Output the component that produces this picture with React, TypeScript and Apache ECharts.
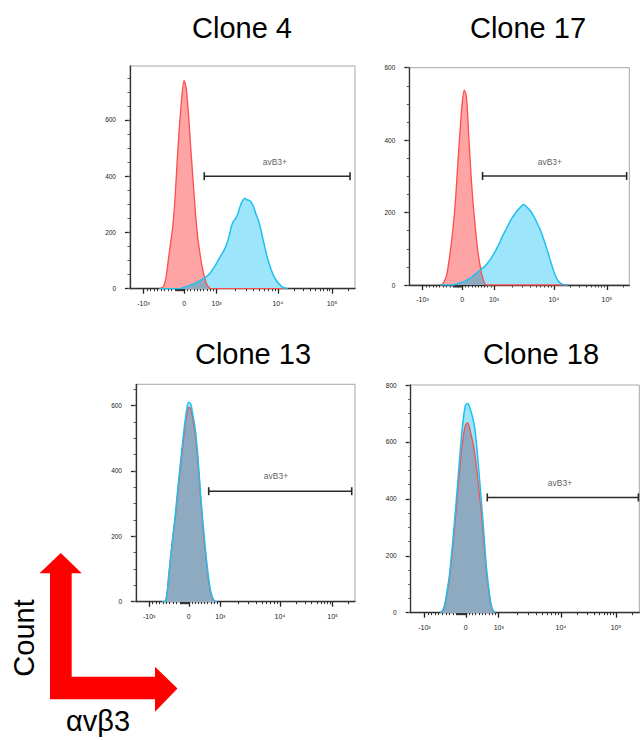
import React, { useEffect, useRef } from "react";
import * as echarts from "echarts";

// ---------- text ----------
const TITLES = ["Clone 4", "Clone 17", "Clone 13", "Clone 18"];
const GATE_NAME = "avB3+";
const Y_AXIS_NAME = "Count";
const X_AXIS_NAME = "αvβ3";

// ---------- x scale (biexponential display, channels 0..1000) ----------
const X_TICK_VALUES = [-1000, 0, 1000, 10000, 100000];
const X_TICK_LABELS = ["-10³", "0", "10³", "10⁴", "10⁵"];
const X_MINOR_VALUES = [
  -900, -800, -700, -600, -500, -400, -300, -200, -100,
  -90, -80, -70, -60, -50, -40, -30, -20, -10,
  100, 200, 300, 400, 500, 600, 700, 800, 900,
  2000, 3000, 4000, 5000, 6000, 7000, 8000, 9000,
  20000, 30000, 40000, 50000, 60000, 70000, 80000, 90000,
  200000,
];
const SCALE_VALUES = [-1000, -100, 0, 1000, 10000, 100000];
const SCALE_CHANNELS = [60, 200, 241, 385, 657, 898];

// ---------- y axes ----------
const Y_MAX = [792, 600, 665, 800];
const Y_MAJOR_TICKS = [
  [0, 200, 400, 600],
  [0, 200, 400, 600],
  [0, 200, 400, 600],
  [0, 200, 400, 600, 800],
];
const Y_MINOR_STEP = 50;

// ---------- histograms (channel, count) ----------
const CH_1 = [130, 140, 150, 160, 170, 180, 190, 200, 210, 220, 230, 240, 250, 260, 270, 280, 290, 300, 310, 320, 330, 340, 350, 360, 370, 380, 390, 400, 410, 420, 430, 440, 450, 460, 470, 480, 490, 500, 510, 520, 530, 540, 550, 560, 570, 580, 590, 600, 610, 620, 630, 640, 650, 660, 670, 680, 690, 700];
const RED_1 = [0, 2, 10, 40, 100, 160, 221, 320, 458, 580, 680, 740, 710, 620, 500, 390, 280, 190, 130, 80, 45, 18, 5, 0, 0, 0, 0, 0, 0, 0, 0, 0, 0, 0, 0, 0, 0, 0, 0, 0, 0, 0, 0, 0, 0, 0, 0, 0, 0, 0, 0, 0, 0, 0, 0, 0, 0, 0];
const BLUE_1 = [0, 0, 0, 0, 0, 0, 0, 0, 0, 0, 2, 4, 7, 10, 13, 17, 20, 24, 28, 33, 38, 44, 50, 60, 72, 84, 98, 112, 126, 140, 160, 185, 220, 240, 250, 268, 294, 312, 322, 316, 314, 306, 290, 265, 245, 215, 180, 145, 112, 85, 62, 44, 30, 19, 11, 5, 2, 0];

const CH_2 = [140, 150, 160, 170, 180, 190, 200, 210, 220, 230, 240, 250, 260, 270, 280, 290, 300, 310, 320, 330, 340, 350, 360, 370, 380, 390, 400, 410, 420, 430, 440, 450, 460, 470, 480, 490, 500, 510, 520, 530, 540, 550, 560, 570, 580, 590, 600, 610, 620, 630, 640, 650, 660, 670, 680, 690, 700, 710, 720];
const RED_2 = [0, 2, 12, 28, 65, 110, 165, 235, 330, 420, 500, 538, 518, 415, 310, 225, 160, 100, 60, 28, 8, 0, 0, 0, 0, 0, 0, 0, 0, 0, 0, 0, 0, 0, 0, 0, 0, 0, 0, 0, 0, 0, 0, 0, 0, 0, 0, 0, 0, 0, 0, 0, 0, 0, 0, 0, 0, 0, 0];
const BLUE_2 = [0, 0, 0, 0, 0, 0, 0, 2, 4, 6, 8, 10, 13, 16, 20, 25, 30, 35, 40, 45, 50, 56, 64, 72, 82, 92, 104, 116, 130, 142, 154, 166, 178, 188, 196, 205, 212, 218, 222, 218, 212, 205, 196, 185, 172, 160, 145, 128, 110, 90, 70, 50, 32, 18, 9, 4, 1, 0, 0];

const CH_3 = [120, 130, 140, 150, 160, 170, 180, 190, 200, 210, 220, 230, 240, 250, 260, 270, 280, 290, 300, 310, 320, 330, 340, 350, 360, 370];
const RED_3 = [0, 0, 18, 85, 150, 208, 262, 328, 392, 455, 515, 565, 594, 590, 556, 512, 450, 362, 275, 198, 130, 72, 30, 10, 1, 0];
const BLUE_3 = [0, 0, 15, 80, 145, 210, 270, 340, 405, 470, 530, 580, 610, 605, 570, 530, 465, 375, 286, 210, 140, 80, 35, 12, 2, 0];

const CH_4 = [130, 140, 150, 160, 170, 180, 190, 200, 210, 220, 230, 240, 250, 260, 270, 280, 290, 300, 310, 320, 330, 340, 350, 360, 370];
const RED_4 = [0, 6, 28, 72, 125, 200, 285, 372, 462, 550, 620, 660, 667, 640, 605, 560, 495, 420, 340, 250, 155, 85, 30, 6, 0];
const BLUE_4 = [0, 8, 33, 80, 135, 215, 305, 400, 500, 600, 680, 730, 735, 716, 690, 650, 575, 480, 384, 280, 170, 95, 35, 8, 0];

const CHANNELS = [CH_1, CH_2, CH_3, CH_4];
const REDS = [RED_1, RED_2, RED_3, RED_4];
const BLUES = [BLUE_1, BLUE_2, BLUE_3, BLUE_4];

// ---------- gates ----------
const GATE_X_START = [330, 333, 332, 335];
const GATE_X_END = [978, 988, 985, 996];
const GATE_Y = [400, 301, 338, 405];
const GATE_LABEL_X = [644, 639, 639, 653];
const GATE_LABEL_Y = [452, 341, 383, 457];

// ---------- layout / style ----------
const LAYOUT = [
  { left: 130, top: 66, width: 225, height: 222.7 },
  { left: 409.3, top: 67.7, width: 220, height: 217.3 },
  { left: 136, top: 384.3, width: 219, height: 217.4 },
  { left: 410.7, top: 385, width: 228.6, height: 227.7 },
];
const TITLE_POS = [
  [242, 28],
  [528, 28],
  [253, 354],
  [541, 354],
];
const FONT = "'Liberation Sans', Arial, Helvetica, sans-serif";
const RED_FILL = "#ffa4a4";
const BLUE_FILL = "#9de5fb";
const OVERLAP_FILL = "#8eaac1";
const RED_LINE = "#ff4c4c";
const BLUE_LINE = "#1ec0f0";
const AXIS_COLOR = "#333";

function toChannel(v: number): number {
  const V = SCALE_VALUES;
  const C = SCALE_CHANNELS;
  const n = V.length;
  if (v <= V[0]) return C[0];
  if (v >= V[n - 1]) {
    const dec = C[n - 1] - C[n - 2];
    return C[n - 1] + (Math.log10(v) - Math.log10(V[n - 1])) * dec;
  }
  for (let i = 0; i < n - 1; i++) {
    if (v >= V[i] && v <= V[i + 1]) {
      if (V[i] >= 1000) {
        const t = (Math.log10(v) - Math.log10(V[i])) / (Math.log10(V[i + 1]) - Math.log10(V[i]));
        return C[i] + t * (C[i + 1] - C[i]);
      }
      const t = (v - V[i]) / (V[i + 1] - V[i]);
      return C[i] + t * (C[i + 1] - C[i]);
    }
  }
  return C[n - 1];
}

function buildOption() {
  const majorCh = X_TICK_VALUES.map(toChannel);
  const minorCh = X_MINOR_VALUES.map(toChannel);
  const labelFor = (v: number) => {
    let best = 0;
    for (let i = 1; i < majorCh.length; i++) {
      if (Math.abs(majorCh[i] - v) < Math.abs(majorCh[best] - v)) best = i;
    }
    return X_TICK_LABELS[best];
  };

  const grid: any[] = [];
  const xAxis: any[] = [];
  const yAxis: any[] = [];
  const series: any[] = [];
  const graphic: any[] = [];

  for (let p = 0; p < 4; p++) {
    const L = LAYOUT[p];
    grid.push({
      left: L.left,
      top: L.top,
      width: L.width,
      height: L.height,
      show: true,
      borderColor: "#a8a8a8",
      borderWidth: 1,
      backgroundColor: "transparent",
      containLabel: false,
    });
    const yMinor: number[] = [];
    for (let v = 0; v <= Y_MAX[p]; v += Y_MINOR_STEP) yMinor.push(v);

    xAxis.push({
      type: "value",
      gridIndex: p,
      min: 0,
      max: 1000,
      position: "bottom",
      axisLine: { show: true, onZero: false, lineStyle: { color: AXIS_COLOR, width: 1.3 } },
      axisTick: { show: true, customValues: majorCh, length: 5, lineStyle: { color: "#222", width: 1.3 } },
      axisLabel: {
        show: true,
        customValues: majorCh,
        formatter: (v: number) => labelFor(v),
        fontSize: 7,
        color: "#222",
        fontFamily: FONT,
        margin: 11,
      },
      splitLine: { show: false },
    });
    xAxis.push({
      type: "value",
      gridIndex: p,
      min: 0,
      max: 1000,
      position: "bottom",
      offset: 0,
      axisLine: { show: false, onZero: false },
      axisTick: { show: true, customValues: minorCh, length: 2.5, lineStyle: { color: "#333", width: 1 } },
      axisLabel: { show: false },
      splitLine: { show: false },
    });
    yAxis.push({
      type: "value",
      gridIndex: p,
      min: 0,
      max: Y_MAX[p],
      position: "left",
      axisLine: { show: true, onZero: false, lineStyle: { color: AXIS_COLOR, width: 1.3 } },
      axisTick: { show: true, customValues: Y_MAJOR_TICKS[p], length: 5, lineStyle: { color: "#222", width: 1.3 } },
      axisLabel: {
        show: true,
        customValues: Y_MAJOR_TICKS[p],
        fontSize: 6.5,
        color: "#222",
        fontFamily: FONT,
        margin: 14,
      },
      splitLine: { show: false },
    });
    yAxis.push({
      type: "value",
      gridIndex: p,
      min: 0,
      max: Y_MAX[p],
      position: "left",
      offset: 0,
      axisLine: { show: false, onZero: false },
      axisTick: { show: true, customValues: yMinor, length: 2.5, lineStyle: { color: "#555", width: 1 } },
      axisLabel: { show: false },
      splitLine: { show: false },
    });

    const xi = 2 * p;
    const yi = 2 * p;
    const ch = CHANNELS[p];
    const red = ch.map((c, k) => [c, REDS[p][k]]);
    const blue = ch.map((c, k) => [c, BLUES[p][k]]);
    const overlap = ch.map((c, k) => [c, Math.min(REDS[p][k], BLUES[p][k])]);
    const base = {
      type: "line",
      xAxisIndex: xi,
      yAxisIndex: yi,
      symbol: "none",
      smooth: 0.3,
      silent: true,
    };
    series.push({ ...base, data: red, lineStyle: { opacity: 0, width: 0 }, areaStyle: { color: RED_FILL, opacity: 1 } });
    series.push({ ...base, data: blue, lineStyle: { opacity: 0, width: 0 }, areaStyle: { color: BLUE_FILL, opacity: 1 } });
    series.push({ ...base, data: red, lineStyle: { color: RED_LINE, width: 1.3 } });
    series.push({ ...base, data: overlap, lineStyle: { opacity: 0, width: 0 }, areaStyle: { color: OVERLAP_FILL, opacity: 1 } });
    series.push({ ...base, data: blue, lineStyle: { color: BLUE_LINE, width: 1.5 } });

    // gate
    series.push({
      type: "line",
      xAxisIndex: xi,
      yAxisIndex: yi,
      silent: true,
      data: [
        [GATE_X_START[p], GATE_Y[p]],
        [GATE_X_END[p], GATE_Y[p]],
      ],
      symbol: "rect",
      symbolSize: [1.6, 8],
      itemStyle: { color: "#2a2a2a" },
      lineStyle: { color: "#2a2a2a", width: 1.6 },
    });
    series.push({
      type: "scatter",
      xAxisIndex: xi,
      yAxisIndex: yi,
      silent: true,
      symbolSize: 0,
      data: [[GATE_LABEL_X[p], GATE_LABEL_Y[p]]],
      label: {
        show: true,
        position: "inside",
        formatter: GATE_NAME,
        fontSize: 8.5,
        color: "#333",
        fontFamily: FONT,
      },
    });

    graphic.push({
      type: "text",
      x: TITLE_POS[p][0],
      y: TITLE_POS[p][1],
      style: {
        text: TITLES[p],
        fontSize: 29,
        fontFamily: FONT,
        fill: "#000",
        align: "center",
        verticalAlign: "middle",
      },
    });
  }

  // big red L-arrow + axis names
  graphic.push({
    type: "polygon",
    shape: {
      points: [
        [60.8, 553],
        [81.7, 573.3],
        [71.7, 573.3],
        [71.7, 676.7],
        [155, 676.7],
        [155, 666.7],
        [177.5, 688.5],
        [155, 711.7],
        [155, 699.3],
        [50, 699.3],
        [50, 573.3],
        [39.5, 573.3],
      ],
    },
    style: { fill: "#ff0000" },
  });
  graphic.push({
    type: "text",
    x: 24,
    y: 638,
    rotation: Math.PI / 2,
    style: {
      text: Y_AXIS_NAME,
      fontSize: 29,
      fontFamily: FONT,
      fill: "#000",
      align: "center",
      verticalAlign: "middle",
    },
  });
  graphic.push({
    type: "text",
    x: 98,
    y: 721,
    style: {
      text: X_AXIS_NAME,
      fontSize: 29,
      fontFamily: FONT,
      fill: "#000",
      align: "center",
      verticalAlign: "middle",
    },
  });

  return {
    animation: false,
    backgroundColor: "#fff",
    grid,
    xAxis,
    yAxis,
    series,
    graphic,
  };
}

export default function App() {
  const ref = useRef<HTMLDivElement>(null);
  useEffect(() => {
    if (!ref.current) return;
    const chart = echarts.init(ref.current, null, { renderer: "svg" });
    chart.setOption(buildOption() as any);
    return () => chart.dispose();
  }, []);
  return (
    <div
      ref={ref}
      style={{ position: "absolute", left: 0, top: 0, width: 641, height: 740 }}
    />
  );
}
